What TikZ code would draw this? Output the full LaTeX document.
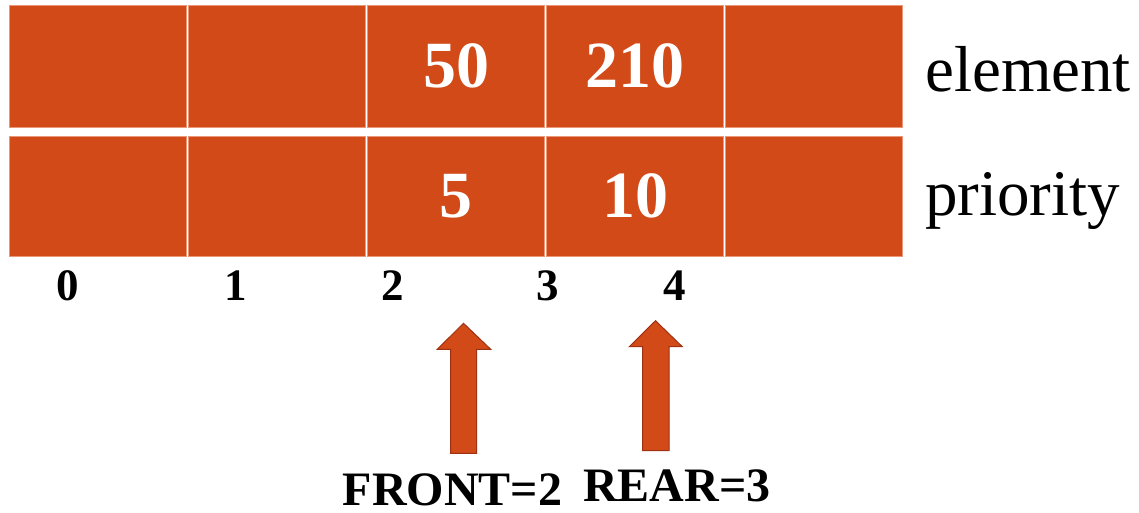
\documentclass[tikz,border=0pt]{standalone}
\usepackage{fontspec}
\setmainfont{Liberation Serif}
\definecolor{cellfill}{RGB}{210,74,24}
\definecolor{celledge}{RGB}{236,150,120}
\definecolor{arrowedge}{RGB}{160,48,18}
\begin{document}
\begin{tikzpicture}[x=1pt,y=-1pt,
  cell/.style={rectangle,fill=cellfill,draw=celledge,line width=0.6pt,
    minimum width=177pt,inner sep=0pt,text=white,
    font=\fontsize{66}{66}\selectfont\bfseries},
  toprow/.style={cell,minimum height=122pt},
  botrow/.style={cell,minimum height=120.5pt},
  rowlabel/.style={anchor=base west,inner sep=0pt,font=\fontsize{65}{65}\selectfont},
  idx/.style={anchor=base,inner sep=0pt,font=\fontsize{45}{45}\selectfont\bfseries},
  ptrlabel/.style={anchor=base,inner sep=0pt,font=\fontsize{48}{48}\selectfont\bfseries},
  blockarrow/.style={fill=cellfill,draw=arrowedge,line width=1pt,line join=miter}]
\useasboundingbox (0,0) rectangle (1139,512);
% element row
\node[toprow] (e0) at (97.5,66.2) {};
\node[toprow] (e1) at (276.5,66.2) {};
\node[toprow] (e2) at (456,66.2) {50};
\node[toprow] (e3) at (635,66.2) {210};
\node[toprow] (e4) at (814.25,66.2) {};
% priority row
\node[botrow] (p0) at (97.5,196.1) {};
\node[botrow] (p1) at (276.5,196.1) {};
\node[botrow] (p2) at (456,196.1) {5};
\node[botrow] (p3) at (635,196.1) {10};
\node[botrow] (p4) at (814.25,196.1) {};
% row labels
\node[rowlabel] (lel) at (925,91.7) {element};
\node[rowlabel] (lpr) at (925,215) {priority};
% indices
\node[idx] (i0) at (67.5,300) {0};
\node[idx] (i1) at (236,300) {1};
\node[idx] (i2) at (392.5,300) {2};
\node[idx] (i3) at (548,300) {3};
\node[idx] (i4) at (675,300) {4};
% block arrows
\draw[blockarrow] (463.5,323.3) -- (490.7,349.3) -- (476.7,349.3) -- (476.7,453.3)
  -- (450.7,453.3) -- (450.7,349.3) -- (437.3,349.3) -- cycle;
\draw[blockarrow] (655.5,320.7) -- (682.3,346.7) -- (669,346.7) -- (669,450.7)
  -- (642.7,450.7) -- (642.7,346.7) -- (629.3,346.7) -- cycle;
% pointer labels
\node[ptrlabel] (front) at (452.5,505.5) {FRONT=2};
\node[ptrlabel] (rear) at (676.7,501) {REAR=3};
\end{tikzpicture}
\end{document}
